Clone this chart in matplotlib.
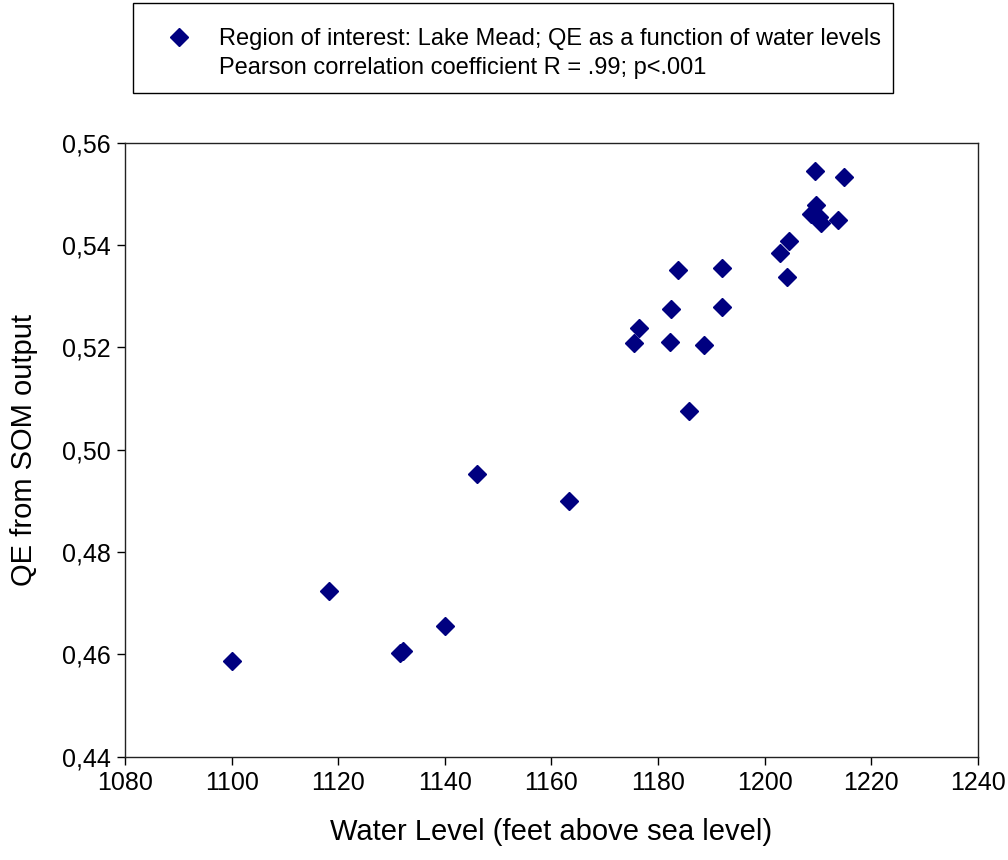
import matplotlib.pyplot as plt
from matplotlib.lines import Line2D
from matplotlib.patches import Rectangle
from matplotlib.ticker import FuncFormatter, MultipleLocator

plt.rcParams['font.family'] = ['Liberation Sans', 'DejaVu Sans']

# water level (feet above sea level) and QE from SOM output
water_level = [1100.1, 1118.3, 1131.6, 1132.1, 1140.0, 1146.0, 1163.3,
               1175.5, 1176.5, 1182.2, 1182.4, 1183.7, 1185.8, 1188.6,
               1192.0, 1192.0, 1202.9, 1204.2, 1204.6, 1208.7, 1209.4,
               1209.6, 1210.2, 1210.5, 1213.7, 1214.9]
qe = [0.4588, 0.4724, 0.4603, 0.4606, 0.4656, 0.4953, 0.4900,
      0.5208, 0.5238, 0.5211, 0.5276, 0.5352, 0.5076, 0.5204,
      0.5356, 0.5279, 0.5384, 0.5338, 0.5408, 0.5461, 0.5545,
      0.5479, 0.5455, 0.5443, 0.5449, 0.5533]

legend_lines = ['Region of interest: Lake Mead; QE as a function of water levels',
                'Pearson correlation coefficient R = .99; p<.001']

color = '#000080'

fig = plt.figure(figsize=(10.08, 8.6), dpi=100)
ax = fig.add_axes([0.124, 0.12, 0.846, 0.714])

ax.plot(water_level, qe, linestyle='none', marker='D', markersize=9,
        color=color, markeredgecolor=color)

ax.set_xlim(1080, 1240)
ax.set_ylim(0.44, 0.56)
ax.xaxis.set_major_locator(MultipleLocator(20))
ax.yaxis.set_major_locator(MultipleLocator(0.02))
ax.yaxis.set_major_formatter(FuncFormatter(lambda v, p: f'{v:.2f}'.replace('.', ',')))
ax.tick_params(direction='out', length=5.5, width=1, labelsize=18, colors='black', pad=5)
ax.tick_params(axis='x', pad=5)
for s in ax.spines.values():
    s.set_linewidth(1)
    s.set_color('#222222')

ax.set_xlabel('Water Level (feet above sea level)', fontsize=21, labelpad=16)
ax.set_ylabel('QE from SOM output', fontsize=21, labelpad=17)

# legend box drawn separately so the text can sit a bit lower inside it
fig.patches.append(Rectangle((133 / 1008, 1 - 93 / 860), 760 / 1008, 90 / 860,
                             transform=fig.transFigure, fill=False,
                             edgecolor='black', linewidth=1))
handles = [Line2D([], [], linestyle='none', marker='D', markersize=9, color=color),
           Line2D([], [], linestyle='none')]
leg = fig.legend(handles, legend_lines, loc='upper left',
                 bbox_to_anchor=(133 / 1008, 1 - 9 / 860), borderaxespad=0,
                 fontsize=17, frameon=False,
                 handlelength=2.3, handletextpad=0.55, labelspacing=0.31,
                 borderpad=0.8)

fig.savefig('out.png', dpi=100)
